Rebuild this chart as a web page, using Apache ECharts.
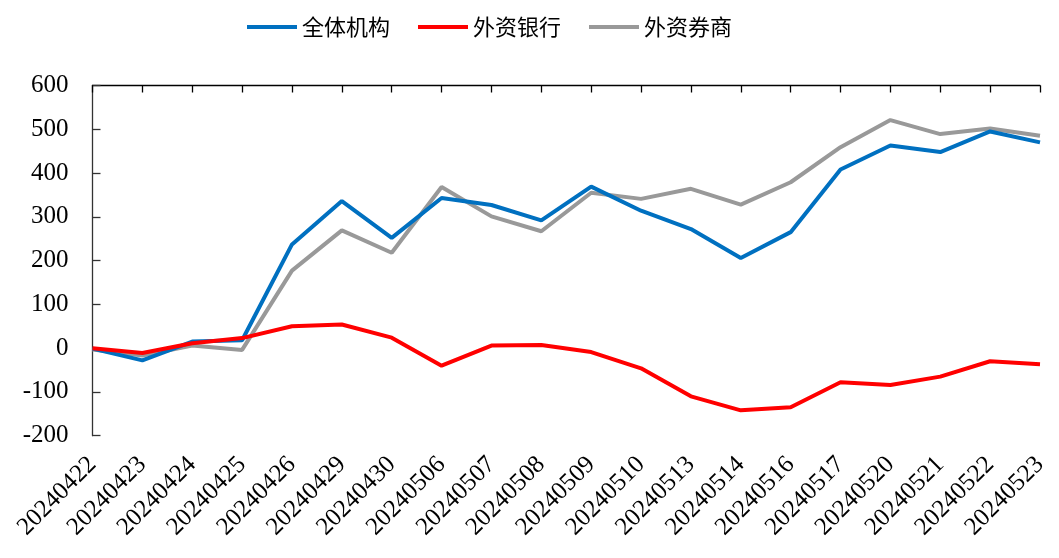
<!DOCTYPE html>
<html><head><meta charset="utf-8">
<script src="https://cdn.jsdelivr.net/npm/echarts@6/dist/echarts.min.js"></script>
<style>html,body{margin:0;padding:0;background:#fff}#c{width:1059px;height:558px}</style>
</head><body><div id="c"></div>
<script>
const categories = ['20240422','20240423','20240424','20240425','20240426','20240429','20240430','20240506','20240507','20240508','20240509','20240510','20240513','20240514','20240516','20240517','20240520','20240521','20240522','20240523'];
const allInst = [-1,-28,15,18,237,336,252,343,327,292,369,314,272,206,265,408,463,448,495,470];
const foreignBanks = [0,-11,11,23,50,54,24,-40,6,7,-9,-46,-110,-142,-135,-78,-84,-65,-30,-37];
const foreignBrokers = [-3,-17,6,-4,177,269,218,368,301,267,355,341,364,328,379,459,521,489,502,485];
const seriesNames = ['全体机构','外资银行','外资券商'];
const yTicks = {min:-200, max:600, interval:100};

const chart = echarts.init(document.getElementById('c'));
const serif = '"Liberation Serif", "Times New Roman", serif';
const cjk = '"Noto Sans CJK SC", sans-serif';
chart.setOption({
  animation:false,
  legend:{
    left:247, top:16, padding:0,
    icon:'rect', itemWidth:50, itemHeight:4, itemGap:28,
    textStyle:{fontFamily:cjk, fontSize:22, color:'#000'},
    data:seriesNames
  },
  grid:{left:92.5, right:19, top:85.5, bottom:122.3, containLabel:false},
  xAxis:[{
    type:'category', data:categories, boundaryGap:false,
    axisLine:{show:false}, axisTick:{show:false},
    axisLabel:{rotate:45, fontFamily:serif, fontSize:25, color:'#000', margin:25, interval:0},
    position:'bottom'
  },{
    type:'category', data:categories, boundaryGap:false,
    axisLine:{show:true, onZero:true, lineStyle:{color:'#000', width:1.3}},
    axisTick:{show:true, inside:true, length:7, interval:0, lineStyle:{color:'#000', width:1.3}},
    axisLabel:{show:false}
  }],
  yAxis:{
    type:'value', min:yTicks.min, max:yTicks.max, interval:yTicks.interval,
    splitLine:{show:false},
    axisLine:{show:true, lineStyle:{color:'#333', width:1.3}},
    axisTick:{show:true, inside:true, length:8, lineStyle:{color:'#333', width:1.3}},
    axisLabel:{fontFamily:serif, fontSize:25, color:'#000', margin:24}
  },
  series:[
    {name:seriesNames[0], type:'line', data:allInst, symbol:'none', lineStyle:{color:'#0070C0', width:4}, itemStyle:{color:'#0070C0'}, z:3},
    {name:seriesNames[1], type:'line', data:foreignBanks, symbol:'none', lineStyle:{color:'#FF0000', width:4}, itemStyle:{color:'#FF0000'}, z:4},
    {name:seriesNames[2], type:'line', data:foreignBrokers, symbol:'none', lineStyle:{color:'#999999', width:4}, itemStyle:{color:'#999999'}, z:2}
  ]
});
</script></body></html>
